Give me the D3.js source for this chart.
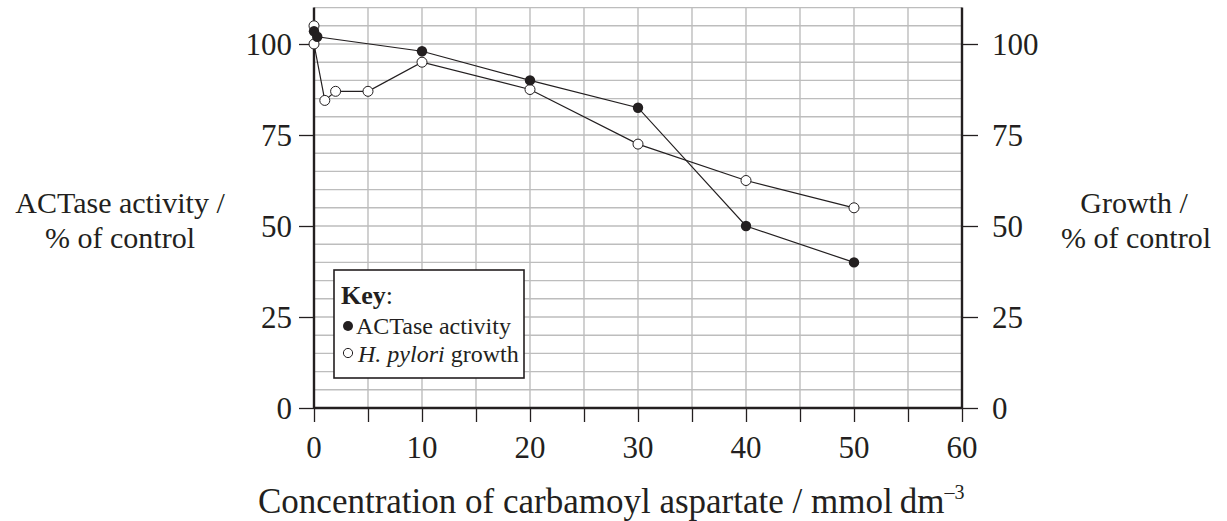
<!DOCTYPE html>
<html>
<head>
<meta charset="utf-8">
<script src="https://cdn.jsdelivr.net/npm/d3@7"></script>
<style>
  body { margin: 0; background: #fff; }
  text { font-family: "Liberation Serif", "DejaVu Serif", serif; fill: #231f20; }
</style>
</head>
<body>
<svg id="chart" width="1227" height="521"></svg>
<script>
// values
const actaseConc = [0, 0.3, 10, 20, 30, 40, 50];
const actaseVals = [103.5, 102, 98, 90, 82.5, 50, 40];
const growthConc = [0, 0, 1, 2, 5, 10, 20, 30, 40, 50];
const growthVals = [105, 100, 84.5, 87, 87, 95, 87.5, 72.5, 62.5, 55];
const xTicks = [0, 10, 20, 30, 40, 50, 60];
const yTicks = [0, 25, 50, 75, 100];

const svg = d3.select('#chart');
const ink = '#231f20';
const fs = '31px';

const x = d3.scaleLinear().domain([0, 60]).range([314, 962]);
const y = d3.scaleLinear().domain([0, 110]).range([408, 7.6]);

// grid
const grid = svg.append('g');
grid.selectAll('.hg')
    .data(d3.range(0, 111, 5))
    .enter().append('line')
    .attr('x1', x(0)).attr('x2', x(60))
    .attr('y1', d => y(d)).attr('y2', d => y(d))
    .attr('stroke', '#bdbdbd').attr('stroke-width', 1.4);
grid.selectAll('.vg')
    .data(d3.range(5, 60, 5))
    .enter().append('line')
    .attr('x1', d => x(d)).attr('x2', d => x(d))
    .attr('y1', y(0)).attr('y2', y(110))
    .attr('stroke', '#bdbdbd').attr('stroke-width', 1.4);

// axes
const xAxis = d3.axisBottom(x).tickValues(d3.range(0, 61, 5)).tickSize(14).tickFormat('');
const gx = svg.append('g').attr('transform', 'translate(0,' + y(0) + ')').call(xAxis);
gx.select('.domain').remove();
gx.selectAll('line').attr('stroke', ink).attr('stroke-width', 1.3);
svg.selectAll('.xlab')
    .data(xTicks)
    .enter().append('text')
    .attr('x', d => x(d)).attr('y', 458)
    .attr('text-anchor', 'middle')
    .style('font-size', fs)
    .text(d => d);

const yLeft = d3.axisLeft(y).tickValues(yTicks).tickSize(15).tickPadding(7);
const gl = svg.append('g').attr('transform', 'translate(' + x(0) + ',0)').call(yLeft);
const yRight = d3.axisRight(y).tickValues(yTicks).tickSize(16).tickPadding(14);
const gr = svg.append('g').attr('transform', 'translate(' + x(60) + ',0)').call(yRight);
[gl, gr].forEach(g => {
    g.select('.domain').remove();
    g.selectAll('line').attr('stroke', ink).attr('stroke-width', 1.3);
    g.selectAll('text')
        .style('font-family', '"Liberation Serif", serif')
        .style('font-size', fs)
        .attr('dy', '0.34em')
        .attr('fill', ink);
});

// thick axis lines
svg.append('line').attr('x1', x(0)).attr('x2', x(60)).attr('y1', y(0)).attr('y2', y(0))
    .attr('stroke', ink).attr('stroke-width', 2.4);
svg.append('line').attr('x1', x(0)).attr('x2', x(0)).attr('y1', y(0) + 1).attr('y2', y(110))
    .attr('stroke', ink).attr('stroke-width', 2.4);
svg.append('line').attr('x1', x(60)).attr('x2', x(60)).attr('y1', y(0) + 1).attr('y2', y(110))
    .attr('stroke', ink).attr('stroke-width', 2.4);

// axis titles
const ts = '30px';
svg.append('text').attr('x', 120).attr('y', 213).attr('text-anchor', 'middle')
    .style('font-size', ts).text('ACTase activity /');
svg.append('text').attr('x', 120).attr('y', 248).attr('text-anchor', 'middle')
    .style('font-size', ts).text('% of control');
svg.append('text').attr('x', 1134).attr('y', 213).attr('text-anchor', 'middle')
    .style('font-size', ts).text('Growth /');
svg.append('text').attr('x', 1136).attr('y', 248).attr('text-anchor', 'middle')
    .style('font-size', ts).text('% of control');
const xt = svg.append('text').attr('x', 258).attr('y', 513).attr('text-anchor', 'start')
    .style('font-size', '35px');
xt.append('tspan').text('Concentration of carbamoyl aspartate / mmol\u2009dm');
xt.append('tspan').attr('dy', -14).style('font-size', '20px').text('\u20133');

// series
const line = d3.line().x(d => x(d[0])).y(d => y(d[1]));
const actase = actaseConc.map((c, i) => [c, actaseVals[i]]);
const growth = growthConc.map((c, i) => [c, growthVals[i]]);

svg.append('path').datum(growth).attr('d', line)
    .attr('fill', 'none').attr('stroke', ink).attr('stroke-width', 1.2);
svg.append('path').datum(actase).attr('d', line)
    .attr('fill', 'none').attr('stroke', ink).attr('stroke-width', 1.2);

svg.selectAll('.gp')
    .data(growth)
    .enter().append('circle')
    .attr('cx', d => x(d[0])).attr('cy', d => y(d[1])).attr('r', 5)
    .attr('fill', '#fff').attr('stroke', ink).attr('stroke-width', 1);
svg.selectAll('.ap')
    .data(actase)
    .enter().append('circle')
    .attr('cx', d => x(d[0])).attr('cy', d => y(d[1])).attr('r', 5.2)
    .attr('fill', ink);

// legend
const lg = svg.append('g');
lg.append('rect').attr('x', 334).attr('y', 270).attr('width', 190).attr('height', 108)
    .attr('fill', '#fff').attr('stroke', ink).attr('stroke-width', 1.6);
const key = lg.append('text').attr('x', 341).attr('y', 304).style('font-size', '26px');
key.append('tspan').style('font-weight', 'bold').text('Key');
key.append('tspan').text(':');
lg.append('circle').attr('cx', 348).attr('cy', 326).attr('r', 5).attr('fill', ink);
lg.append('text').attr('x', 356).attr('y', 334).style('font-size', '24px').text('ACTase activity');
lg.append('circle').attr('cx', 348).attr('cy', 353).attr('r', 4.6)
    .attr('fill', '#fff').attr('stroke', ink).attr('stroke-width', 1);
const gl2 = lg.append('text').attr('x', 358).attr('y', 362).style('font-size', '24px');
gl2.append('tspan').style('font-style', 'italic').text('H. pylori');
gl2.append('tspan').text(' growth');
</script>
</body>
</html>
